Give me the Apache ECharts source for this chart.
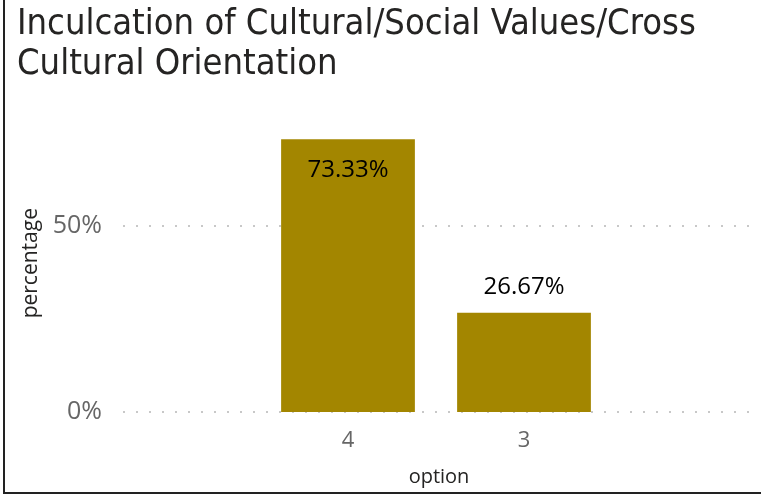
<!DOCTYPE html>
<html>
<head>
<meta charset="utf-8">
<script src="https://cdn.jsdelivr.net/npm/echarts@6/dist/echarts.min.js"></script>
<style>html,body{margin:0;padding:0;background:#fff;}#c{width:761px;height:500px;}</style>
</head>
<body>
<div id="c"></div>
<script>
const titleText = "Inculcation of Cultural/Social Values/Cross\nCultural Orientation";
const categories = ["4", "3"];
const percentages = [73.33, 26.67];
const yTicks = [0, 50];
const xName = "option";
const yName = "percentage";

const chart = echarts.init(document.getElementById('c'), null, {renderer: 'canvas'});
const labelFont = "'Open Sans', 'Noto Sans', sans-serif";
const barData = percentages.map(v => ({
  value: v,
  label: { position: v > 50 ? 'insideTop' : 'top', distance: v > 50 ? 19 : 14 }
}));

chart.setOption({
  animation: false,
  title: {
    text: titleText,
    left: 12, top: 0,
    textStyle: { fontFamily: "'DejaVu Sans Condensed', 'DejaVu Sans', sans-serif", fontSize: 36, fontWeight: 'normal', color: '#252423', lineHeight: 40 }
  },
  graphic: [
    { type: 'line', shape: { x1: 4, y1: 0, x2: 4, y2: 494 }, style: { stroke: '#222', lineWidth: 2 } },
    { type: 'line', shape: { x1: 3, y1: 493, x2: 761, y2: 493 }, style: { stroke: '#222', lineWidth: 2 } }
  ],
  grid: [
    { left: 123, right: 6, top: 114.4, bottom: 88 },
    { left: 260, width: 352, top: 114.4, bottom: 88 }
  ],
  xAxis: [
    {
      gridIndex: 0, type: 'category', data: [''],
      axisLine: { show: false }, axisTick: { show: false }, axisLabel: { show: false },
      name: xName, nameLocation: 'middle', nameGap: 55,
      nameTextStyle: { fontFamily: labelFont, fontSize: 20, color: '#252423' }
    },
    {
      gridIndex: 1, type: 'category', data: categories,
      axisLine: { show: false }, axisTick: { show: false },
      axisLabel: { fontFamily: labelFont, fontSize: 22, color: '#666666', margin: 18 }
    }
  ],
  yAxis: [
    {
      gridIndex: 0, type: 'value', min: yTicks[0], max: 80, interval: yTicks[1] - yTicks[0],
      axisLine: { show: false }, axisTick: { show: false },
      axisLabel: { formatter: '{value}%', fontFamily: labelFont, fontSize: 25, color: '#666666', margin: 21, showMaxLabel: false },
      splitLine: { show: true, showMaxLine: false, lineStyle: { color: '#c8c8c8', type: [2, 11], width: 2 } },
      name: yName, nameLocation: 'middle', nameGap: 81, nameRotate: 90,
      nameTextStyle: { fontFamily: labelFont, fontSize: 21, color: '#252423' }
    },
    {
      gridIndex: 1, type: 'value', min: 0, max: 80, show: false
    }
  ],
  series: [{
    type: 'bar', xAxisIndex: 1, yAxisIndex: 1,
    data: barData,
    barCategoryGap: '24%',
    itemStyle: { color: '#A38600' },
    label: { show: true, formatter: p => p.value.toFixed(2) + '%', fontFamily: labelFont, fontSize: 24, color: '#000' }
  }]
});
</script>
</body>
</html>
